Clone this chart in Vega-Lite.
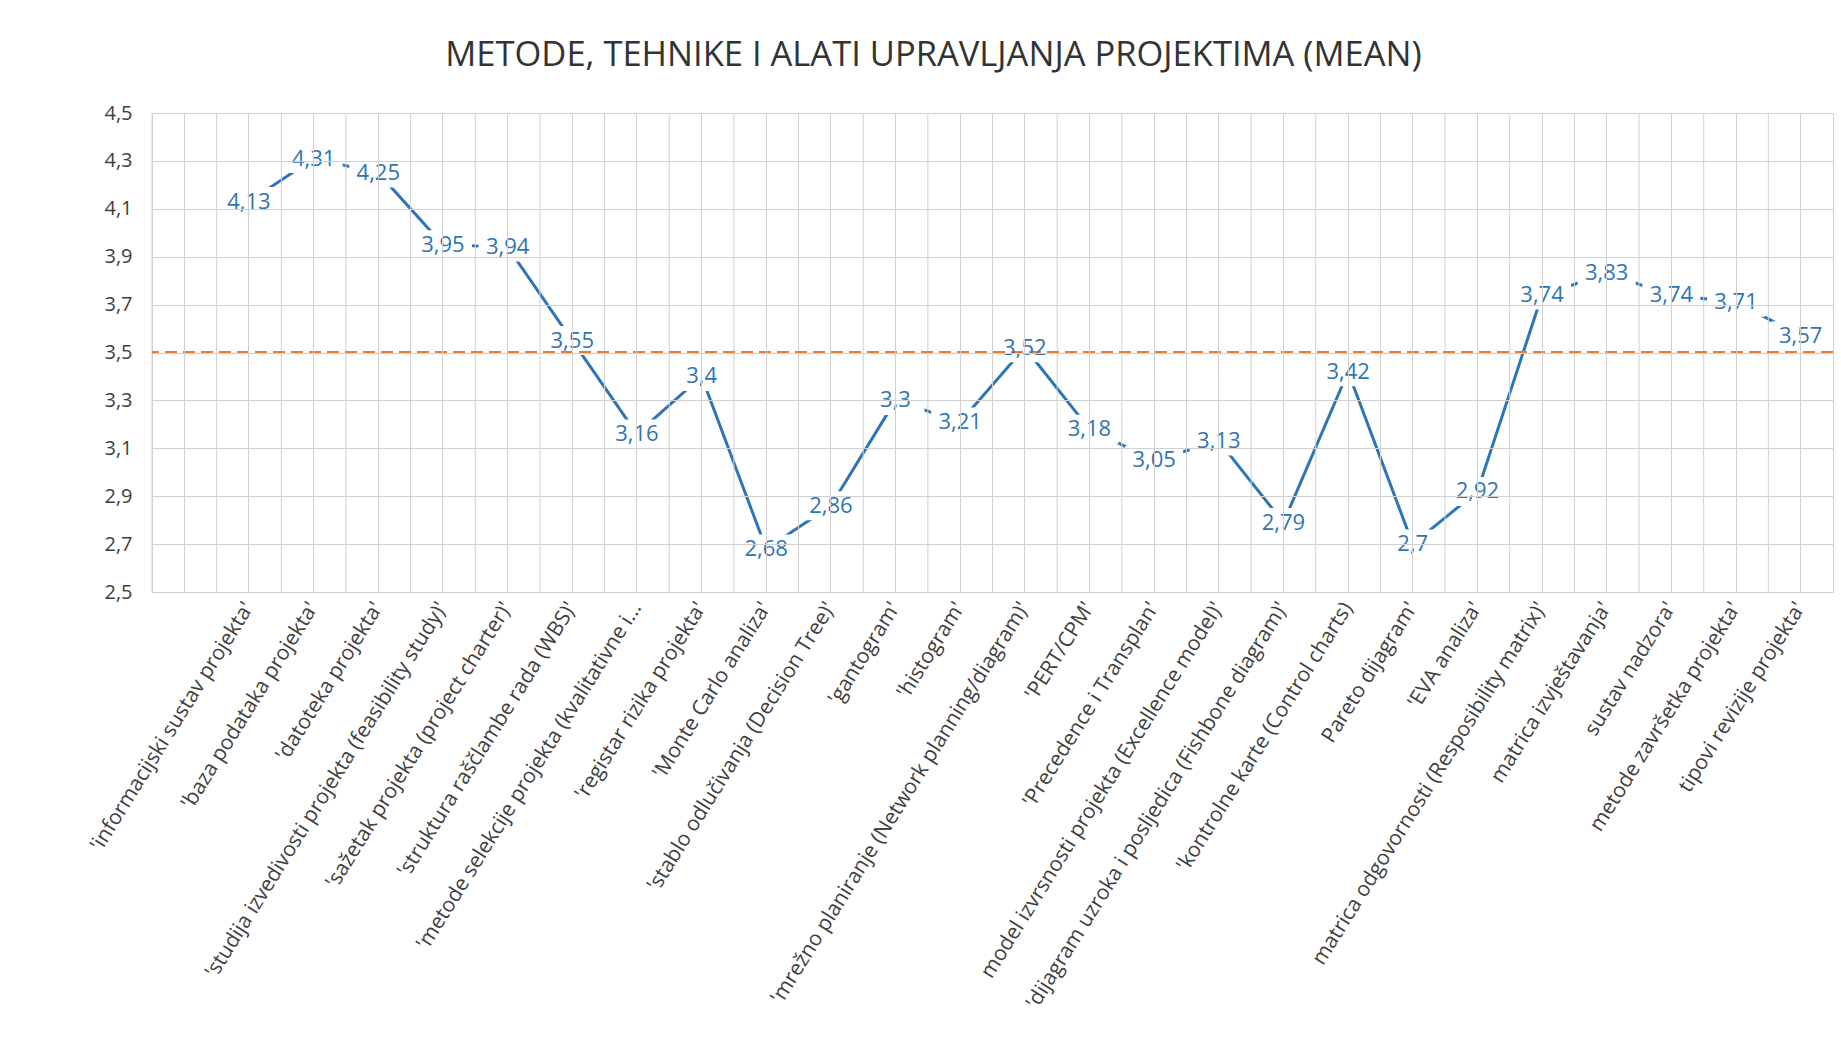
{
  "$schema": "https://vega.github.io/schema/vega-lite/v6.json",
  "width": 1681,
  "height": 479,
  "autosize": {"type": "none"},
  "padding": {"left": 152, "top": 113, "right": 8, "bottom": 461},
  "background": "white",
  "config": {
    "locale": {"number": {"decimal": ",", "thousands": ".", "grouping": [3], "currency": ["", " €"]}},
    "view": {"stroke": "#d0d0d0", "strokeWidth": 1},
    "font": "Open Sans"
  },
  "title": {
    "text": "METODE, TEHNIKE I ALATI UPRAVLJANJA PROJEKTIMA (MEAN)",
    "fontSize": 34.5,
    "fontWeight": "normal",
    "color": "#333333",
    "font": "Open Sans",
    "anchor": "middle",
    "dx": -59,
    "baseline": "alphabetic",
    "offset": 3
  },
  "data": {
    "values": [
      {"metoda": " ", "mean": null},
      {"metoda": "'informacijski sustav projekta'", "mean": 4.13},
      {"metoda": "'baza podataka projekta'", "mean": 4.31},
      {"metoda": "'datoteka projekta'", "mean": 4.25},
      {"metoda": "'studija izvedivosti projekta (feasibility study)'", "mean": 3.95},
      {"metoda": "'sažetak projekta (project charter)'", "mean": 3.94},
      {"metoda": "'struktura raščlambe rada (WBS)'", "mean": 3.55},
      {"metoda": "'metode selekcije projekta (kvalitativne i...", "mean": 3.16},
      {"metoda": "'registar rizika projekta'", "mean": 3.4},
      {"metoda": "'Monte Carlo analiza'", "mean": 2.68},
      {"metoda": "'stablo odlučivanja (Decision Tree)'", "mean": 2.86},
      {"metoda": "'gantogram'", "mean": 3.3},
      {"metoda": "'histogram'", "mean": 3.21},
      {"metoda": "'mrežno planiranje (Network planning/diagram)'", "mean": 3.52},
      {"metoda": "'PERT/CPM'", "mean": 3.18},
      {"metoda": "'Precedence i Transplan'", "mean": 3.05},
      {"metoda": "model izvrsnosti projekta (Excellence model)'", "mean": 3.13},
      {"metoda": "'dijagram uzroka i posljedica (Fishbone diagram)'", "mean": 2.79},
      {"metoda": "'kontrolne karte (Control charts)", "mean": 3.42},
      {"metoda": "Pareto dijagram'", "mean": 2.7},
      {"metoda": "'EVA analiza'", "mean": 2.92},
      {"metoda": "matrica odgovornosti (Resposibility matrix)'", "mean": 3.74},
      {"metoda": "matrica izvještavanja'", "mean": 3.83},
      {"metoda": "sustav nadzora'", "mean": 3.74},
      {"metoda": "metode završetka projekta'", "mean": 3.71},
      {"metoda": "tipovi revizije projekta'", "mean": 3.57}
    ]
  },
  "layer": [
    {
      "mark": {"type": "line", "color": "#2E75B6", "strokeWidth": 3},
      "encoding": {
        "x": {
          "field": "metoda",
          "type": "nominal",
          "sort": null,
          "scale": {"type": "band", "paddingInner": 0, "paddingOuter": 0},
          "axis": {
            "title": null,
            "labelAngle": -58,
            "labelFontSize": 21,
            "labelFont": "Open Sans",
            "labelColor": "#404040",
            "labelLimit": 1000,
            "ticks": false,
            "labelPadding": 12,
            "domainColor": "#d0d0d0",
            "grid": true,
            "gridColor": "#d0d0d0",
            "zindex": 1
          }
        },
        "y": {
          "field": "mean",
          "type": "quantitative",
          "scale": {"domain": [2.5, 4.5], "nice": false, "zero": false},
          "axis": {
            "title": null,
            "values": [2.5, 2.7, 2.9, 3.1, 3.3, 3.5, 3.7, 3.9, 4.1, 4.3, 4.5],
            "format": ".1f",
            "labelFontSize": 20,
            "labelFont": "Open Sans",
            "labelColor": "#404040",
            "ticks": false,
            "domain": false,
            "labelPadding": 20,
            "gridColor": "#d0d0d0",
            "zindex": 1
          }
        }
      }
    },
    {
      "mark": {"type": "point", "shape": "M-1,-0.5H1V0.5H-1Z", "size": 3364, "filled": true, "color": "white", "opacity": 1, "strokeWidth": 0},
      "encoding": {
        "x": {"field": "metoda", "type": "nominal", "sort": null},
        "y": {"field": "mean", "type": "quantitative"}
      }
    },
    {
      "mark": {"type": "rule", "color": "#d0d0d0", "strokeWidth": 1},
      "encoding": {"x": {"field": "metoda", "type": "nominal", "sort": null, "bandPosition": 0}}
    },
    {
      "mark": {"type": "rule", "color": "#ED7D31", "strokeWidth": 2.2, "strokeDash": [12, 6]},
      "encoding": {"y": {"datum": 3.5}}
    },
    {
      "mark": {"type": "text", "fontSize": 22, "color": "#2E75B6", "font": "Open Sans"},
      "encoding": {
        "x": {"field": "metoda", "type": "nominal", "sort": null},
        "y": {"field": "mean", "type": "quantitative"},
        "text": {"field": "mean", "type": "quantitative", "format": "~r"}
      }
    }
  ]
}
